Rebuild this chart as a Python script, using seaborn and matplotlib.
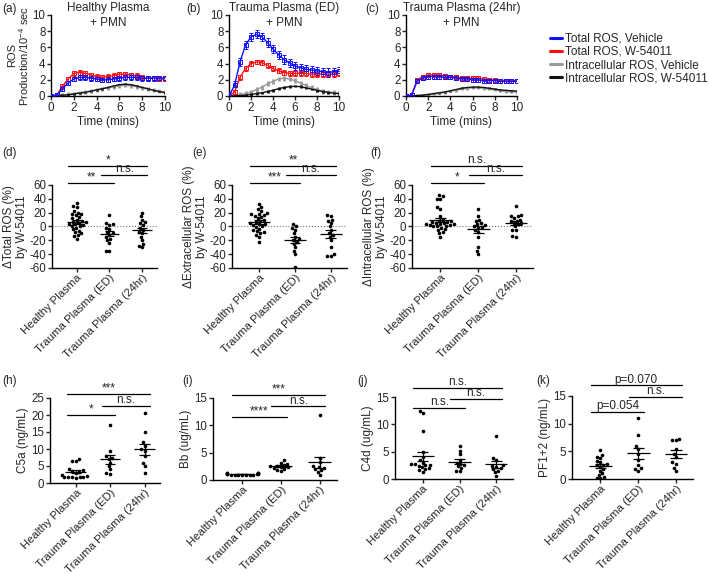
import numpy as np
import pandas as pd
import matplotlib
matplotlib.use('Agg')
import matplotlib.pyplot as plt
import matplotlib.transforms as mtransforms
from matplotlib.lines import Line2D
import seaborn as sns

# ---- data ----
groups = ['Healthy Plasma', 'Trauma Plasma (ED)', 'Trauma Plasma (24hr)']
series_names = ['Total ROS, Vehicle', 'Total ROS, W-54011',
                'Intracellular ROS, Vehicle', 'Intracellular ROS, W-54011']

time_min = [0, 0.5, 1, 1.5, 2, 2.5, 3, 3.5, 4, 4.5, 5,
            5.5, 6, 6.5, 7, 7.5, 8, 8.5, 9, 9.5, 10]

# (a) healthy plasma + PMN
blue_a = [0, 0.1, 0.9, 1.6, 2.1, 2.3, 2.3, 2.2, 2.1, 2.0, 2.0, 2.1, 2.2, 2.3, 2.3, 2.3, 2.2, 2.2, 2.2, 2.2, 2.2]
red_a = [0, 0.1, 1.2, 2.1, 2.8, 2.9, 2.8, 2.6, 2.4, 2.3, 2.4, 2.5, 2.7, 2.7, 2.6, 2.5, 2.3, 2.2, 2.2, 2.1, 2.1]
gray_a = [0, 0.05, 0.1, 0.2, 0.3, 0.4, 0.5, 0.6, 0.75, 0.9, 1.0, 1.15, 1.25, 1.3, 1.25, 1.15, 1.0, 0.85, 0.7, 0.6, 0.5]
black_a = [0, 0.05, 0.1, 0.15, 0.25, 0.35, 0.45, 0.6, 0.75, 0.9, 1.05, 1.25, 1.4, 1.45, 1.4, 1.25, 1.05, 0.9, 0.7, 0.55, 0.4]

# (b) trauma plasma (ED) + PMN
blue_b = [0, 1.3, 4.2, 6.3, 7.3, 7.6, 7.3, 6.6, 5.8, 5.1, 4.5, 4.1, 3.7, 3.5, 3.3, 3.2, 3.1, 3.0, 2.9, 3.0, 3.1]
red_b = [0, 0.5, 2.3, 3.4, 4.0, 4.2, 4.1, 3.8, 3.4, 3.1, 2.9, 2.8, 2.8, 2.8, 2.8, 2.7, 2.7, 2.7, 2.7, 2.7, 2.8]
gray_b = [0, 0.1, 0.2, 0.3, 0.5, 0.8, 1.1, 1.5, 1.8, 2.1, 2.2, 2.1, 1.9, 1.6, 1.3, 1.0, 0.8, 0.6, 0.5, 0.4, 0.3]
black_b = [0, 0.02, 0.05, 0.1, 0.2, 0.3, 0.4, 0.55, 0.7, 0.9, 1.05, 1.15, 1.2, 1.15, 1.0, 0.85, 0.7, 0.55, 0.45, 0.35, 0.3]

# (c) trauma plasma (24hr) + PMN
blue_c = [0, 0.1, 1.8, 2.2, 2.4, 2.4, 2.4, 2.3, 2.3, 2.2, 2.1, 2.1, 2.0, 2.0, 1.9, 1.9, 1.9, 1.8, 1.8, 1.8, 1.8]
red_c = [0, 0.1, 2.0, 2.4, 2.6, 2.6, 2.6, 2.5, 2.4, 2.3, 2.2, 2.2, 2.2, 2.2, 2.1, 2.0, 2.0, 1.9, 1.9, 1.9, 1.9]
gray_c = [0, 0.02, 0.05, 0.1, 0.15, 0.25, 0.35, 0.45, 0.6, 0.7, 0.85, 0.95, 1.0, 1.0, 0.95, 0.85, 0.75, 0.65, 0.55, 0.5, 0.45]
black_c = [0, 0.02, 0.05, 0.1, 0.2, 0.3, 0.4, 0.5, 0.65, 0.8, 0.95, 1.05, 1.1, 1.1, 1.05, 0.95, 0.85, 0.75, 0.7, 0.65, 0.6]

# SEM of the time courses (one value per series)
sem_a = [0.3, 0.3, 0.25, 0.1]
sem_b = [0.5, 0.3, 0.3, 0.15]
sem_c = [0.25, 0.25, 0.15, 0.1]

# (d) delta total ROS (%)
d_healthy = [34, 30, 28, 22, 20, 18, 18, 16, 14, 12, 10, 8, 7, 6, 5, 4, 3, 2, 1, 0, -2, -4, -6, -8, -10, -12, -14, -18]
d_ed = [16, 5, 3, 2, -2, -4, -8, -10, -12, -15, -18, -20, -24, -35, -36]
d_24 = [20, 15, 10, 6, 5, 2, -2, -5, -8, -10, -15, -20, -25, -28, -30]

# (e) delta extracellular ROS (%)
e_healthy = [32, 28, 25, 22, 20, 18, 18, 17, 15, 14, 12, 10, 8, 6, 5, 4, 3, 2, 0, -1, -3, -5, -7, -8, -10, -12, -15, -22]
e_ed = [3, 0, -2, -5, -10, -15, -18, -20, -22, -25, -30, -35, -40, -58]
e_24 = [17, 15, 10, 8, 5, 0, -5, -10, -12, -15, -20, -30, -40, -42, -42]

# (f) delta intracellular ROS (%)
f_healthy = [45, 44, 40, 40, 28, 25, 15, 10, 8, 8, 6, 6, 5, 5, 4, 3, 3, 2, 2, 1, 0, 0, -2, -4, -5, -8, -10, -15]
f_ed = [25, 15, 10, 8, 5, 3, 2, 0, -2, -5, -8, -15, -30, -35, -40, -1]
f_24 = [30, 17, 15, 15, 12, 10, 8, 8, 5, 5, 3, 0, -5, -5, -14, -15]

# (h) C5a (ng/mL)
h_healthy = [7, 6.5, 6.5, 4, 3.8, 3.5, 3.3, 3, 2.5, 2, 1.8, 1.8, 1.8, 1.7, 1.7, 1.6]
h_ed = [17.2, 9.5, 7.8, 7.5, 7, 6, 5, 4, 2.8, 2.6]
h_24 = [20.5, 15, 12, 11, 10, 9.5, 8, 6, 5, 2.8]

# (i) Bb (ug/mL)
i_healthy = [1.3, 1.3, 1.2, 1.2, 1.2, 1.1, 1.1, 1.1, 1.1, 1.0, 1.0, 1.0, 1.0, 1.0, 0.9, 0.9]
i_ed = [3.6, 3.2, 3.0, 2.8, 2.6, 2.5, 2.4, 2.3, 2.2, 2.0, 1.9, 1.7]
i_24 = [11.8, 4, 3.3, 2.5, 2.3, 2.2, 2.0, 1.8, 1.5, 0.9]

# (j) C4d (ug/mL)
j_healthy = [12.4, 12.0, 8.7, 5.0, 4.0, 3.5, 3.0, 2.8, 2.7, 2.6, 2.5, 2.4, 2.2, 2.0, 1.8, 1.6, 1.3]
j_ed = [6.0, 5.2, 4.5, 3.5, 3.0, 2.8, 2.5, 2.3, 2.0, 1.5, 1.4]
j_24 = [7.9, 3.8, 3.5, 2.5, 2.4, 2.2, 2.0, 1.8, 1.5, 1.2, 0.6]

# (k) PF1+2 (ng/mL)
k_healthy = [5.3, 4.4, 4.0, 3.8, 3.2, 3.0, 2.8, 2.6, 2.5, 2.2, 1.8, 1.5, 1.0, 0.8, 0.4, 0.2, 0.2]
k_ed = [11.0, 8.0, 6.0, 5.5, 4.5, 3.5, 2.5, 2.0, 1.8, 1.5]
k_24 = [7.3, 7.1, 7.0, 5.5, 4.5, 4.0, 3.0, 2.8, 2.0, 1.5]

# ---- style ----
sns.set_style('ticks')
plt.rcParams['font.family'] = ['Liberation Sans', 'DejaVu Sans']
plt.rcParams['font.size'] = 8.5
plt.rcParams['mathtext.fontset'] = 'custom'
plt.rcParams['mathtext.rm'] = 'Liberation Sans'
plt.rcParams['mathtext.default'] = 'regular'
plt.rcParams['axes.unicode_minus'] = False
plt.rcParams['axes.linewidth'] = 1.0
plt.rcParams['axes.edgecolor'] = 'black'
plt.rcParams['xtick.major.width'] = 1.0
plt.rcParams['ytick.major.width'] = 1.0
plt.rcParams['xtick.major.size'] = 3
plt.rcParams['ytick.major.size'] = 3
plt.rcParams['xtick.major.pad'] = 1.5
plt.rcParams['ytick.major.pad'] = 1.0
plt.rcParams['xtick.labelsize'] = 8.5
plt.rcParams['ytick.labelsize'] = 8.3

W, H = 709, 574
fig = plt.figure(figsize=(W / 100, H / 100), dpi=100)


def px_axes(left, top, right, bottom):
    return fig.add_axes([left / W, 1 - bottom / H, (right - left) / W, (bottom - top) / H])


colors = ['#1010ff', '#ff1010', '#9a9a9a', '#111111']

# ---- top row: time courses ----
tc_panels = [
    ((51, 15, 165, 96), [blue_a, red_a, gray_a, black_a], sem_a, 'Healthy Plasma\n+ PMN', '(a)', (2, 3)),
    ((229, 15, 339, 96), [blue_b, red_b, gray_b, black_b], sem_b, 'Trauma Plasma (ED)\n+ PMN', '(b)', (186, 3)),
    ((406, 15, 517, 96), [blue_c, red_c, gray_c, black_c], sem_c, 'Trauma Plasma (24hr)\n+ PMN', '(c)', (365, 3)),
]
for box, ys, sems, title, letter, lpos in tc_panels:
    ax = px_axes(*box)
    for idx in [2, 3, 1, 0]:
        big = idx < 2
        ax.errorbar(time_min, ys[idx], yerr=sems[idx], color=colors[idx],
                    lw=1.0, marker='s' if big else None, ms=2.2, mfc='none',
                    mew=0.7, elinewidth=0.7 if big else 2.0, capsize=1.5 if big else 0,
                    zorder=3 if big else 2)
    ax.set_xlim(0, 10)
    ax.set_ylim(0, 10)
    ax.set_xticks([0, 2, 4, 6, 8, 10])
    ax.set_yticks([0, 2, 4, 6, 8, 10])
    ax.set_xlabel('Time (mins)', labelpad=1)
    sns.despine(ax=ax)
    cx = (box[0] + box[2]) / 2
    fig.text(cx / W, 1 - 2 / H, title, ha='center', va='top', fontsize=8.5, linespacing=1.3)
    fig.text(lpos[0] / W, 1 - lpos[1] / H, letter, ha='left', va='top', fontsize=8.5)
    if letter == '(a)':
        ax.set_ylabel('Production/10$^{-4}$ sec', fontsize=8)
        ax.yaxis.set_label_coords(-0.175, 0.5)
        fig.text(12 / W, 1 - 55 / H, 'ROS', rotation=90, ha='center', va='center', fontsize=8)

handles = [Line2D([0], [0], color=c, lw=2.2) for c in colors]
fig.legend(handles, series_names, loc='upper left', bbox_to_anchor=(545 / W, 1 - 28 / H),
           frameon=False, fontsize=8.5, handlelength=1.0, handletextpad=0.3,
           labelspacing=0.1, borderaxespad=0)


# ---- scatter panels ----
def scatter_panel(box, data, ylim, yticks, ylabel, letter, lpos, sigs, zero_line=False):
    ax = px_axes(*box)
    df = pd.DataFrame({
        'group': np.repeat(groups, [len(v) for v in data]),
        'value': np.concatenate([np.asarray(v, float) for v in data]),
    })
    if zero_line:
        ax.axhline(0, color='#777777', ls=':', lw=0.8, zorder=0)
    sns.swarmplot(data=df, x='group', y='value', order=groups, color='black',
                  size=2.6, ax=ax, zorder=3)
    for i, v in enumerate(data):
        v = np.asarray(v, float)
        m = v.mean()
        se = v.std(ddof=1) / np.sqrt(len(v))
        ax.hlines(m, i - 0.3, i + 0.3, color='black', lw=0.9, zorder=4)
        ax.hlines([m - se, m + se], i - 0.15, i + 0.15, color='black', lw=0.9, zorder=4)
        ax.vlines(i, m - se, m + se, color='black', lw=0.9, zorder=4)
    ax.set_xlim(-0.75, 2.45)
    ax.set_ylim(*ylim)
    ax.set_yticks(yticks)
    ax.set_xlabel('')
    ax.set_ylabel(ylabel, linespacing=1.1, labelpad=1.5)
    ax.set_xticks([0, 1, 2])
    ax.set_xticklabels(groups, rotation=45, ha='right', rotation_mode='anchor', fontsize=8.2)
    ax.tick_params(axis='x', pad=0.5)
    sns.despine(ax=ax)
    trans = mtransforms.blended_transform_factory(ax.transData, ax.transAxes)
    for x0, x1, yf, txt in sigs:
        ax.plot([x0, x1], [yf, yf], color='black', lw=0.9, transform=trans, clip_on=False)
        ax.text((x0 + x1) / 2, yf - 0.005, txt, ha='center', va='bottom', fontsize=8.5,
                transform=trans)
    fig.text(lpos[0] / W, 1 - lpos[1] / H, letter, ha='left', va='top', fontsize=8.5)
    return ax


lo, mid, full = (-0.25, 1.15), (0.75, 2.15), (-0.25, 2.15)
pct_ticks = [-60, -40, -20, 0, 20, 40, 60]

scatter_panel((52, 185, 157, 268), [d_healthy, d_ed, d_24], (-60, 60), pct_ticks,
              '\u0394Total ROS (%)\nby W-54011', '(d)', (2, 147),
              [(*lo, 1.02, '**'), (*mid, 1.12, 'n.s.'), (*full, 1.23, '*')], zero_line=True)
scatter_panel((232, 185, 347, 268), [e_healthy, e_ed, e_24], (-60, 60), pct_ticks,
              '\u0394Extracellular ROS (%)\nby W-54011', '(e)', (192, 147),
              [(*lo, 1.02, '***'), (*mid, 1.12, 'n.s.'), (*full, 1.23, '**')], zero_line=True)
scatter_panel((412, 185, 533, 268), [f_healthy, f_ed, f_24], (-60, 60), pct_ticks,
              '\u0394Intracellular ROS (%)\nby W-54011', '(f)', (370, 147),
              [(*lo, 1.02, '*'), (*mid, 1.12, 'n.s.'), (*full, 1.23, 'n.s.')], zero_line=True)

scatter_panel((50, 398, 160, 483), [h_healthy, h_ed, h_24], (0, 25), [0, 5, 10, 15, 20, 25],
              'C5a (ng/mL)', '(h)', (2, 375),
              [(*lo, 0.80, '*'), (*mid, 0.91, 'n.s.'), (*full, 1.05, '***')])
scatter_panel((213, 398, 337, 480), [i_healthy, i_ed, i_24], (0, 15), [0, 5, 10, 15],
              'Bb (ug/mL)', '(i)', (182, 375),
              [(*lo, 0.77, '****'), (*mid, 0.90, 'n.s.'), (*full, 1.04, '***')])
scatter_panel((395, 397, 513, 479), [j_healthy, j_ed, j_24], (0, 15), [0, 5, 10, 15],
              'C4d (ug/mL)', '(j)', (357, 375),
              [(*lo, 0.87, 'n.s.'), (*mid, 0.98, 'n.s.'), (*full, 1.11, 'n.s.')])
scatter_panel((572, 396, 693, 479), [k_healthy, k_ed, k_24], (0, 15), [0, 5, 10, 15],
              'PF1+2 (ng/mL)', '(k)', (536, 375),
              [(*lo, 0.81, 'p=0.054'), (*mid, 0.99, 'n.s.'), (*full, 1.13, 'p=0.070')])

fig.savefig('out.png', dpi=100)
